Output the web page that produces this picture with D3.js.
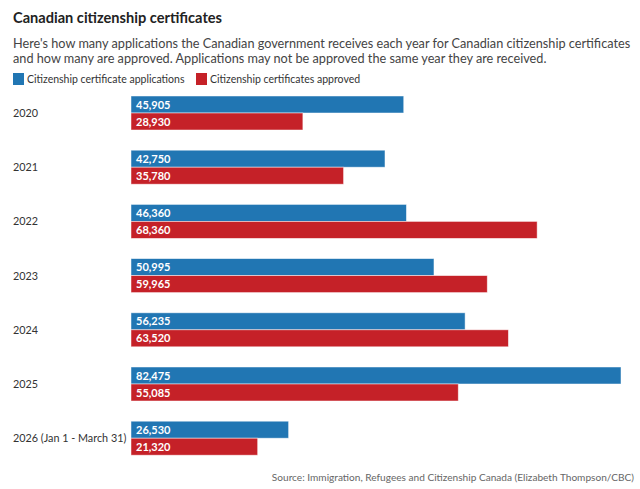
<!DOCTYPE html>
<html>
<head>
<meta charset="utf-8">
<script src="https://cdn.jsdelivr.net/npm/d3@7"></script>
<style>
  body { margin: 0; background: #fff; }
  text { font-family: Lato, "Open Sans", sans-serif; }
</style>
</head>
<body>
<div id="container"></div>
<script>
let years = ["2020", "2021", "2022", "2023", "2024", "2025", "2026 (Jan 1 - March 31)"];
let applications = [45905, 42750, 46360, 50995, 56235, 82475, 26530];
let approved = [28930, 35780, 68360, 59965, 63520, 55085, 21320];
let seriesNames = ["Citizenship certificate applications", "Citizenship certificates approved"];
let colors = ["#2176b3", "#c52128"];

let w = 640;
let h = 489;

let viz = d3.select("#container")
  .append("svg")
    .attr("width", w)
    .attr("height", h)
;

// header
viz.append("text")
  .attr("x", 13).attr("y", 23)
  .style("font-size", "14.6px").style("font-weight", "bold").style("fill", "#222")
  .text("Canadian citizenship certificates");

let sub = [
  "Here's how many applications the Canadian government receives each year for Canadian citizenship certificates",
  "and how many are approved. Applications may not be approved the same year they are received."
];
viz.selectAll(".sub").data(sub).enter()
  .append("text")
    .attr("class", "sub")
    .attr("x", 13)
    .attr("y", (d, i) => 48 + i * 15)
    .style("font-size", "12.7px").style("fill", "#444")
    .text(d => d);

// legend
let legend = viz.append("g").attr("transform", "translate(13,73)");
let legX = [0, 183];
seriesNames.forEach((name, i) => {
  let g = legend.append("g").attr("transform", "translate(" + legX[i] + ",0)");
  g.append("rect").attr("width", 11).attr("height", 12).attr("fill", colors[i]);
  g.append("text").attr("x", 14).attr("y", 10)
    .style("font-size", "10.5px").style("fill", "#333")
    .text(name);
});

// scales
let xScale = d3.scaleLinear().domain([0, 82475]).range([131, 621]);
let yScale = d3.scaleBand().domain(years).range([96, 96 + 54.2 * 7]).paddingInner(0);
let barH = 17;

let rows = years.map((y, i) => ({year: y, vals: [applications[i], approved[i]]}));

let groups = viz.selectAll(".datagroup").data(rows).enter()
  .append("g")
    .attr("class", "datagroup")
    .attr("transform", d => "translate(0," + yScale(d.year) + ")");

groups.append("text")
  .attr("x", 13)
  .attr("y", barH + 4)
  .style("font-size", "10.8px").style("fill", "#333")
  .text(d => d.year);

groups.selectAll("rect").data(d => d.vals).enter()
  .append("rect")
    .attr("x", xScale(0))
    .attr("y", (d, i) => i * barH)
    .attr("width", d => xScale(d) - xScale(0))
    .attr("height", barH)
    .attr("fill", (d, i) => colors[i])
    .attr("stroke", "rgba(255,255,255,0.6)")
    .attr("stroke-width", 0.8);

groups.selectAll(".val").data(d => d.vals).enter()
  .append("text")
    .attr("class", "val")
    .attr("x", xScale(0) + 5)
    .attr("y", (d, i) => i * barH + 12.5)
    .style("font-size", "11px").style("font-weight", "bold").style("fill", "#fff")
    .text(d => d3.format(",")(d));

// source
viz.append("text")
  .attr("x", 634).attr("y", 481)
  .attr("text-anchor", "end")
  .style("font-size", "10.1px").style("fill", "#666")
  .text("Source: Immigration, Refugees and Citizenship Canada (Elizabeth Thompson/CBC)");
</script>
</body>
</html>
